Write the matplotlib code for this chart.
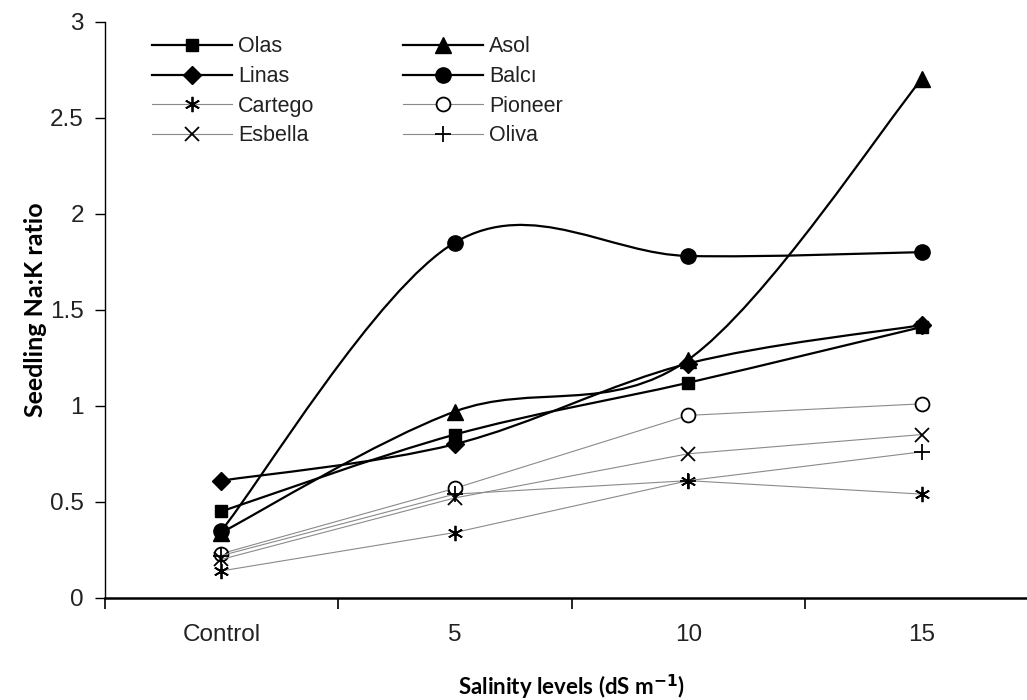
import matplotlib
matplotlib.use("Agg")
import matplotlib.pyplot as plt
from matplotlib.path import Path
from matplotlib.patches import PathPatch
from matplotlib.lines import Line2D

plt.rcParams['font.family'] = ['Liberation Sans', 'DejaVu Sans']

levels = ['Control', '5', '10', '15']

# thick (smoothed) series
olas = [0.45, 0.85, 1.12, 1.41]
linas = [0.61, 0.80, 1.22, 1.42]
asol = [0.34, 0.97, 1.24, 2.70]
balci = [0.35, 1.85, 1.78, 1.80]

# thin series
cartego = [0.14, 0.34, 0.61, 0.54]
pioneer = [0.23, 0.57, 0.95, 1.01]
esbella = [0.20, 0.52, 0.75, 0.85]
oliva = [0.22, 0.54, 0.61, 0.76]


def smooth_path(xs, ys):
    # Excel-like smoothed line: cubic bezier with catmull-rom control points
    n = len(xs)
    verts = [(xs[0], ys[0])]
    codes = [Path.MOVETO]
    for i in range(n - 1):
        i0 = max(i - 1, 0)
        i3 = min(i + 2, n - 1)
        c1 = (xs[i] + (xs[i + 1] - xs[i0]) / 6, ys[i] + (ys[i + 1] - ys[i0]) / 6)
        c2 = (xs[i + 1] - (xs[i3] - xs[i]) / 6, ys[i + 1] - (ys[i3] - ys[i]) / 6)
        verts += [c1, c2, (xs[i + 1], ys[i + 1])]
        codes += [Path.CURVE4] * 3
    return Path(verts, codes)


fig = plt.figure(figsize=(10.27, 7), dpi=100)
ax = fig.add_axes([0.102, 0.146, 0.909, 0.823])
x = list(range(len(levels)))

thick = [('Olas', olas, 's', 9), ('Asol', asol, '^', 12),
         ('Linas', linas, 'D', 9), ('Balcı', balci, 'o', 11)]
thin = [('Cartego', cartego, (6, 2, 0), 11), ('Pioneer', pioneer, 'o', 10),
        ('Esbella', esbella, 'x', 10), ('Oliva', oliva, '+', 11)]

handles = {}
for name, ys, mk, ms in thick:
    ax.add_patch(PathPatch(smooth_path(x, ys), fill=False, edgecolor='black', lw=1.6, zorder=3))
    ax.plot(x, ys, linestyle='none', marker=mk, ms=ms, color='black', zorder=4)
    handles[name] = Line2D([], [], color='black', lw=1.6, marker=mk, ms=ms)

for name, ys, mk, ms in thin:
    mfc = 'white' if mk == 'o' else 'black'
    ax.plot(x, ys, color='#8a8a8a', lw=0.8, marker=mk, ms=ms, mfc=mfc,
            mec='black', mew=1.3, zorder=2)
    handles[name] = Line2D([], [], color='#8a8a8a', lw=0.8, marker=mk, ms=ms,
                           mfc=mfc, mec='black', mew=1.3)

order = ['Olas', 'Linas', 'Cartego', 'Esbella', 'Asol', 'Balcı', 'Pioneer', 'Oliva']
ax.legend([handles[k] for k in order], order, ncol=2, loc='upper left',
          bbox_to_anchor=(0.030, 1.008), frameon=False, fontsize=15.5,
          handlelength=3.7, numpoints=1, columnspacing=4.1, labelspacing=0.4,
          handletextpad=0.3, labelcolor='#222222')

ax.set_xlim(-0.5, 3.5)
ax.set_ylim(0, 3)
ax.set_yticks([0, 0.5, 1, 1.5, 2, 2.5, 3])
ax.set_yticklabels(['0', '0.5', '1', '1.5', '2', '2.5', '3'])
ax.set_xticks([-0.5, 0.5, 1.5, 2.5])
ax.set_xticklabels([])
ax.set_xticks(x, minor=True)
ax.set_xticklabels(levels, minor=True)
ax.tick_params(axis='x', which='minor', length=0, pad=19, labelsize=17.5, labelcolor='#222222')
ax.tick_params(axis='x', which='major', length=8, width=1.2, direction='out')
ax.tick_params(axis='y', length=7, width=1, direction='out', labelsize=17.5,
               labelcolor='#222222', pad=8)

ax.spines['top'].set_visible(False)
ax.spines['right'].set_visible(False)
ax.spines['bottom'].set_linewidth(1.8)
ax.spines['left'].set_linewidth(1.0)

ax.set_xlabel('Salinity levels (dS m$^{\\mathbf{-1}}$)', fontsize=16, fontweight='bold',
              family=['Lato', 'DejaVu Sans'], labelpad=19)
ax.set_ylabel('Seedling Na:K ratio', fontsize=18, fontweight='bold',
              family=['Lato', 'DejaVu Sans'], labelpad=2)

fig.savefig('out.png', dpi=100)
